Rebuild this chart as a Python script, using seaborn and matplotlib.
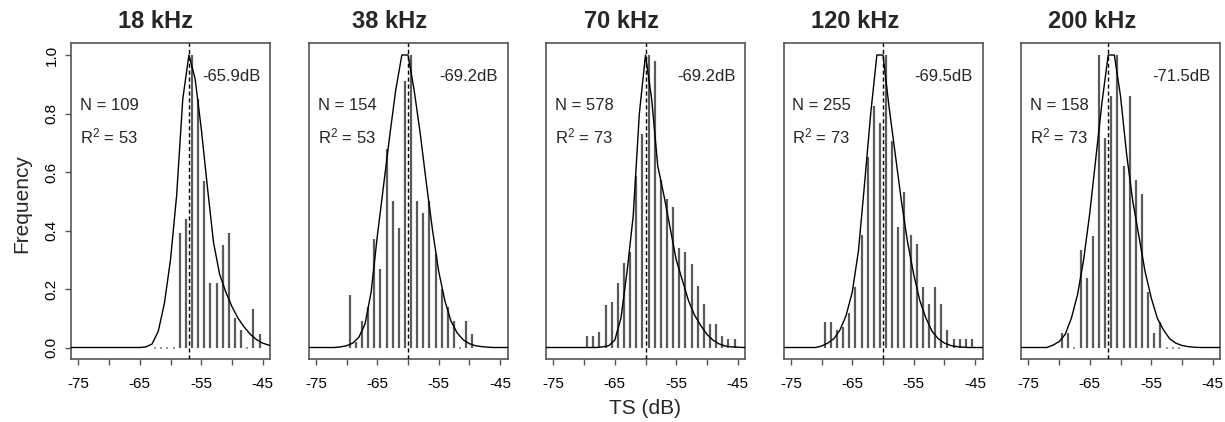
import numpy as np
import pandas as pd
import matplotlib
matplotlib.use("Agg")
import matplotlib.pyplot as plt
import seaborn as sns

# ---- data -------------------------------------------------------------
titles = ["18 kHz", "38 kHz", "70 kHz", "120 kHz", "200 kHz"]
n_fish = [109, 154, 578, 255, 158]
r_squared = [53, 53, 73, 73, 73]
mode_labels = ["-65.9dB", "-69.2dB", "-69.2dB", "-69.5dB", "-71.5dB"]
mode_ts = [-57.0, -60.0, -60.0, -60.0, -62.0]

# bin centres (dB) and relative frequency of each 1-dB TS bin
bins_18 = [-62.5, -61.5, -60.5, -59.5, -58.5, -57.5, -56.5, -55.5, -54.5, -53.5,
           -52.5, -51.5, -50.5, -49.5, -48.5, -47.5, -46.5, -45.5]
freq_18 = [0, 0, 0, 0, 0.39, 0.44, 1.0, 0.85, 0.57, 0.22,
           0.22, 0.35, 0.39, 0.10, 0.06, 0, 0.13, 0.045]

bins_38 = [-69.5, -68.5, -67.5, -66.5, -65.5, -64.5, -63.5, -62.5, -61.5, -60.5,
           -59.5, -58.5, -57.5, -56.5, -55.5, -54.5, -53.5, -52.5, -51.5, -50.5, -49.5]
freq_38 = [0.18, 0.02, 0.09, 0.14, 0.37, 0.27, 0.68, 0.50, 0.41, 0.91,
           1.0, 0.50, 0.46, 0.50, 0.32, 0.20, 0.14, 0.09, 0, 0.09, 0.045]

bins_70 = [-69.5, -68.5, -67.5, -66.5, -65.5, -64.5, -63.5, -62.5, -61.5, -60.5,
           -59.5, -58.5, -57.5, -56.5, -55.5, -54.5, -53.5, -52.5, -51.5, -50.5,
           -49.5, -48.5, -47.5, -46.5, -45.5]
freq_70 = [0.04, 0.04, 0.054, 0.145, 0.157, 0.222, 0.288, 0.325, 0.586, 0.73,
           1.0, 0.98, 0.573, 0.507, 0.481, 0.339, 0.325, 0.285, 0.21, 0.15,
           0.08, 0.08, 0.04, 0.03, 0.03]

bins_120 = [-69.5, -68.5, -67.5, -66.5, -65.5, -64.5, -63.5, -62.5, -61.5, -60.5,
            -59.5, -58.5, -57.5, -56.5, -55.5, -54.5, -53.5, -52.5, -51.5, -50.5,
            -49.5, -48.5, -47.5, -46.5, -45.5]
freq_120 = [0.088, 0.088, 0.06, 0.07, 0.119, 0.208, 0.384, 0.65, 0.826, 0.766,
            1.0, 0.707, 0.413, 0.53, 0.384, 0.354, 0.208, 0.15, 0.208, 0.148,
            0.06, 0.03, 0.03, 0.03, 0.03]

bins_200 = [-69.5, -68.5, -67.5, -66.5, -65.5, -64.5, -63.5, -62.5, -61.5, -60.5,
            -59.5, -58.5, -57.5, -56.5, -55.5, -54.5, -53.5, -52.5, -51.5, -50.5]
freq_200 = [0.048, 0.048, 0, 0.335, 0.238, 0.381, 1.0, 0.717, 0.86, 1.0,
            0.62, 0.86, 0.573, 0.525, 0.191, 0.048, 0.087, 0, 0, 0]

# fitted TS curves evaluated on a 1-dB grid
ts_grid = list(range(-77, -42))
fit_18 = [0, 0, 0, 0, 0, 0, 0, 0, 0, 0, 0, 0, 0, 0.002, 0.012, 0.055, 0.15, 0.3,
          0.52, 0.85, 1.0, 0.92, 0.75, 0.55, 0.36, 0.25, 0.19, 0.14, 0.10, 0.07,
          0.045, 0.027, 0.015, 0.008, 0.004]
fit_38 = [0, 0, 0, 0, 0, 0, 0.002, 0.006, 0.015, 0.035, 0.08, 0.19, 0.38, 0.55,
          0.72, 0.88, 1.0, 1.0, 0.88, 0.73, 0.56, 0.40, 0.26, 0.16, 0.09, 0.05,
          0.026, 0.013, 0.006, 0.003, 0.001, 0, 0, 0, 0]
fit_70 = [0, 0, 0, 0, 0, 0, 0, 0, 0, 0, 0.002, 0.006, 0.025, 0.10, 0.26, 0.45,
          0.80, 1.0, 0.85, 0.62, 0.52, 0.41, 0.30, 0.23, 0.16, 0.11, 0.075, 0.045,
          0.025, 0.012, 0.005, 0.002, 0.001, 0, 0]
fit_120 = [0, 0, 0, 0, 0, 0, 0, 0.005, 0.015, 0.03, 0.06, 0.11, 0.19, 0.33, 0.56,
           0.80, 1.0, 1.0, 0.82, 0.66, 0.50, 0.36, 0.25, 0.16, 0.10, 0.055,
           0.03, 0.015, 0.007, 0.003, 0.001, 0, 0, 0, 0]
fit_200 = [0, 0, 0, 0, 0, 0, 0.008, 0.02, 0.045, 0.10, 0.18, 0.30, 0.46, 0.65,
           0.84, 1.0, 1.0, 0.86, 0.66, 0.50, 0.38, 0.26, 0.17, 0.10, 0.06,
           0.03, 0.015, 0.007, 0.003, 0.001, 0, 0, 0, 0, 0]

all_bins = [bins_18, bins_38, bins_70, bins_120, bins_200]
all_freq = [freq_18, freq_38, freq_70, freq_120, freq_200]
all_fits = [fit_18, fit_38, fit_70, fit_120, fit_200]

x_ticks = [-75, -70, -65, -60, -55, -50, -45]
x_tick_labels = ["-75", "", "-65", "", "-55", "", "-45"]
y_ticks = [0.0, 0.2, 0.4, 0.6, 0.8, 1.0]
y_tick_labels = ["0.0", "0.2", "0.4", "0.6", "0.8", "1.0"]

# ---- style ------------------------------------------------------------
sns.set_theme(style="ticks")
plt.rcParams["font.family"] = ["Liberation Sans", "DejaVu Sans"]
plt.rcParams["mathtext.default"] = "regular"
frame_col = "#555555"
bar_col = "#5a5a5a"

W, H = 1225, 422
fig = plt.figure(figsize=(W / 100, H / 100), dpi=100)

box_left = [71, 308.5, 546, 783.5, 1021]
box_w = 199
box_top, box_bot = 43.3, 359.2
title_x = [156, 390, 622, 855, 1092]

for i in range(5):
    ax = fig.add_axes([box_left[i] / W, 1 - box_bot / H, box_w / W, (box_bot - box_top) / H])
    bins = np.asarray(all_bins[i], dtype=float)
    freq = np.asarray(all_freq[i], dtype=float)
    nz = freq > 0
    ax.vlines(bins[nz], 0, freq[nz], color=bar_col, linewidth=1.6, zorder=2)
    ax.scatter(bins[~nz], np.zeros((~nz).sum()), s=1.2, color="#9a9a9a",
               marker="s", linewidths=0, zorder=2)

    curve = pd.DataFrame({"TS": ts_grid, "fit": all_fits[i]})
    sns.lineplot(data=curve, x="TS", y="fit", ax=ax, color="black",
                 linewidth=1.0, zorder=3)
    ax.axvline(mode_ts[i], color="black", linestyle=(0, (3, 2)), linewidth=1.0, zorder=4)

    ax.set_xlim(-76.2, -43.8)
    ax.set_ylim(-0.04, 1.04)
    ax.set_xticks(x_ticks)
    ax.set_xticklabels(x_tick_labels, fontsize=11)
    if i == 0:
        ax.set_yticks(y_ticks)
        ax.set_yticklabels(y_tick_labels, fontsize=11, rotation=90, va="center")
    else:
        ax.set_yticks([])
    ax.tick_params(direction="out", length=4, width=1, color=frame_col,
                   colors="black", pad=5)
    ax.tick_params(axis="x", pad=9)
    for s in ax.spines.values():
        s.set_visible(True)
        s.set_color(frame_col)
        s.set_linewidth(1.2)
    ax.set_xlabel("")
    ax.set_ylabel("")

    fig.text(title_x[i] / W, 1 - 22 / H, titles[i], fontsize=17, fontweight="bold",
             ha="center", va="center")

    ax.text(9 / box_w, 0.826, f"N = {n_fish[i]}", transform=ax.get_yaxis_transform(),
            fontsize=12, va="center", ha="left")
    ax.text(9 / box_w, 0.72, f"R$^{{2}}$ = {r_squared[i]}", transform=ax.get_yaxis_transform(),
            fontsize=12, va="center", ha="left")
    ax.text(131 / box_w, 0.928, mode_labels[i], transform=ax.get_yaxis_transform(),
            fontsize=12, va="center", ha="left")

fig.text(22 / W, 1 - 204 / H, "Frequency", rotation=90, fontsize=15, ha="center", va="center")
fig.text(645 / W, 1 - 408 / H, "TS (dB)", fontsize=15, ha="center", va="center")

fig.savefig("out.png", dpi=100)
